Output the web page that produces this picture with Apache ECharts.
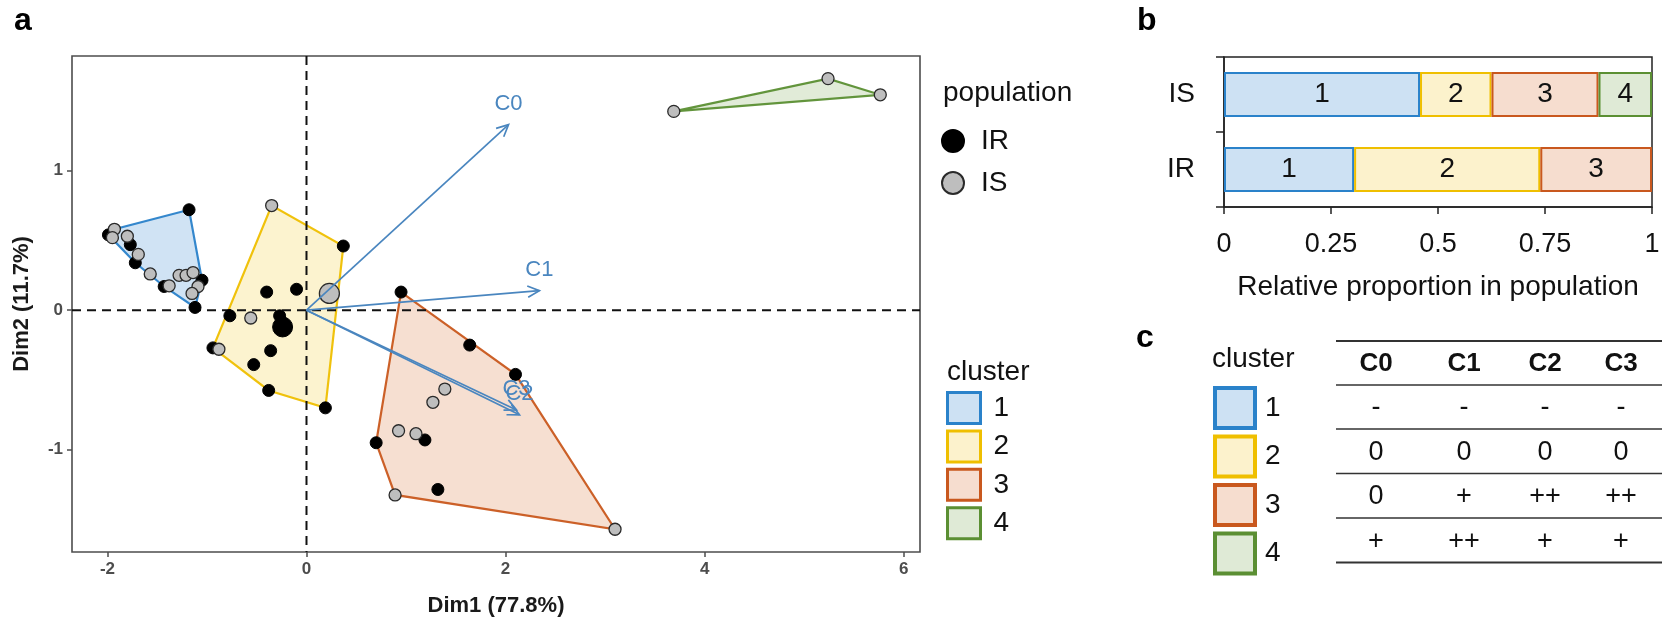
<!DOCTYPE html>
<html>
<head>
<meta charset="utf-8">
<script src="https://cdn.jsdelivr.net/npm/echarts@6/dist/echarts.min.js"></script>
<style>
html, body { margin: 0; padding: 0; background: #fff; }
#chart { width: 1666px; height: 622px; }
</style>
</head>
<body>
<div id="chart"></div>
<script>
// ---- panel a: individuals, [Dim1, Dim2, cluster] ----
const irPoints = [
  [-1.18, 0.72, 1], [-1.99, 0.54, 1], [-1.77, 0.47, 1], [-1.72, 0.34, 1],
  [-1.43, 0.17, 1], [-1.05, 0.215, 1], [-1.12, 0.02, 1],
  [0.37, 0.46, 2], [-0.40, 0.13, 2], [-0.10, 0.15, 2], [-0.77, -0.04, 2],
  [-0.27, -0.04, 2], [-0.94, -0.27, 2], [-0.36, -0.29, 2], [-0.53, -0.39, 2],
  [-0.38, -0.575, 2], [0.19, -0.70, 2],
  [0.95, 0.13, 3], [1.64, -0.25, 3], [2.10, -0.46, 3], [1.19, -0.93, 3],
  [0.70, -0.95, 3], [1.32, -1.285, 3]
]
const isPoints = [
  [-1.93, 0.58, 1], [-1.95, 0.52, 1], [-1.80, 0.53, 1], [-1.69, 0.40, 1],
  [-1.57, 0.26, 1], [-1.38, 0.175, 1], [-1.28, 0.25, 1], [-1.21, 0.25, 1],
  [-1.14, 0.27, 1], [-1.09, 0.17, 1], [-1.15, 0.12, 1],
  [-0.35, 0.75, 2], [-0.56, -0.056, 2], [-0.88, -0.28, 2],
  [1.39, -0.565, 3], [1.27, -0.66, 3], [0.925, -0.864, 3], [1.10, -0.885, 3],
  [0.89, -1.324, 3], [3.10, -1.57, 3],
  [3.69, 1.425, 4], [5.24, 1.66, 4], [5.765, 1.544, 4]
]
const irMean = [[-0.24, -0.12]]
const isMean = [[0.23, 0.12]]

// variable arrows
const varNames = ['C0', 'C1', 'C3', 'C2']
const varDim1 = [2.03, 2.34, 2.11, 2.14]
const varDim2 = [1.33, 0.14, -0.715, -0.75]

const dim1Ticks = [-2, 0, 2, 4, 6]
const dim2Ticks = [-1, 0, 1]

// ---- panel b: proportions per population ----
const clusters = ['1', '2', '3', '4']
const populations = ['IR', 'IS']
const propIR = [0.304, 0.435, 0.261, '-']
const propIS = [0.458, 0.167, 0.25, 0.125]

// ---- panel c: table ----
const markerCols = ['C0', 'C1', 'C2', 'C3']
const markerRows = [
  ['-', '-', '-', '-'],
  ['0', '0', '0', '0'],
  ['0', '+', '++', '++'],
  ['+', '++', '+', '+']
]

const FONT = 'Liberation Sans, Arial, Helvetica, sans-serif'
const lineColors = ['#2A82CA', '#EFBF00', '#C9581E', '#5B8F33']
const fillColors = ['#CDE1F3', '#FCF2CC', '#F6DDCF', '#DFEAD6']
const arrowColor = '#4A86BF'

// convex hull (monotone chain)
function convexHull(pts) {
  const p = pts.map((d) => [d[0], d[1]]).sort((a, b) => a[0] - b[0] || a[1] - b[1])
  if (p.length < 3) return p
  const cross = (o, a, b) => (a[0] - o[0]) * (b[1] - o[1]) - (a[1] - o[1]) * (b[0] - o[0])
  const lower = []
  for (const q of p) {
    while (lower.length >= 2 && cross(lower[lower.length - 2], lower[lower.length - 1], q) <= 0) lower.pop()
    lower.push(q)
  }
  const upper = []
  for (let i = p.length - 1; i >= 0; i--) {
    const q = p[i]
    while (upper.length >= 2 && cross(upper[upper.length - 2], upper[upper.length - 1], q) <= 0) upper.pop()
    upper.push(q)
  }
  upper.pop(); lower.pop()
  return lower.concat(upper)
}

const allPoints = irPoints.concat(isPoints)
const hulls = clusters.map((c, i) => convexHull(allPoints.filter((p) => p[2] === i + 1)))

const chart = echarts.init(document.getElementById('chart'))

// table graphics for panel c
const colX = [1376, 1464, 1545, 1621]
const hLines = [341, 385, 429, 473.5, 518, 562.5]
const tableGraphics = []
hLines.forEach((y, i) => {
  const thick = i === 0 || i === hLines.length - 1
  tableGraphics.push({
    type: 'line', shape: { x1: 1336, y1: y, x2: 1662, y2: y },
    style: { stroke: '#333', lineWidth: thick ? 2.2 : 1.6 }
  })
})
markerCols.forEach((c, j) => {
  tableGraphics.push({
    type: 'text', x: colX[j], y: (hLines[0] + hLines[1]) / 2 + 1,
    style: { text: c, fontSize: 26, fontWeight: 'bold', fill: '#111', align: 'center', verticalAlign: 'middle', fontFamily: FONT }
  })
})
markerRows.forEach((row, i) => {
  row.forEach((v, j) => {
    tableGraphics.push({
      type: 'text', x: colX[j], y: (hLines[i + 1] + hLines[i + 2]) / 2 + 1,
      style: { text: v, fontSize: 27, fill: '#111', align: 'center', verticalAlign: 'middle', fontFamily: FONT }
    })
  })
})

const letter = (t, x, y) => ({
  type: 'text', x: x, y: y,
  style: { text: t, fontSize: 32, fontWeight: 'bold', fill: '#000', verticalAlign: 'middle', fontFamily: FONT }
})
const title = (t, x, y) => ({
  type: 'text', x: x, y: y,
  style: { text: t, fontSize: 28, fill: '#111', verticalAlign: 'middle', fontFamily: FONT }
})

chart.setOption({
  animation: false,
  textStyle: { fontFamily: FONT },
  grid: [
    { left: 72, top: 56, width: 848, height: 507, show: true, borderColor: '#4d4d4d', borderWidth: 1.6 },
    { left: 1224, top: 57, width: 428, height: 150, show: true, borderColor: '#222', borderWidth: 1.5 }
  ],
  xAxis: [
    {
      gridIndex: 0, type: 'value', min: -2.356, max: 6.164,
      name: 'Dim1 (77.8%)', nameLocation: 'middle', nameGap: 43,
      nameTextStyle: { fontSize: 22, fontWeight: 'bold', color: '#1a1a1a' },
      axisLine: { show: false, onZero: false },
      axisTick: { show: true, length: 5, customValues: dim1Ticks, lineStyle: { color: '#4d4d4d', width: 1.5 } },
      axisLabel: { customValues: dim1Ticks, fontSize: 17, fontWeight: 'bold', color: '#4d4d4d', margin: 9 },
      splitLine: { show: false }
    },
    {
      gridIndex: 1, type: 'value', min: 0, max: 1, interval: 0.25,
      name: 'Relative proportion in population', nameLocation: 'middle', nameGap: 66,
      nameTextStyle: { fontSize: 28, color: '#111' },
      axisLine: { show: true, lineStyle: { color: '#222', width: 1.5 } },
      axisTick: { show: true, length: 7, lineStyle: { color: '#222', width: 1.5 } },
      axisLabel: { fontSize: 27, color: '#111', margin: 24 },
      splitLine: { show: false }
    }
  ],
  yAxis: [
    {
      gridIndex: 0, type: 'value', min: -1.733, max: 1.822,
      name: 'Dim2 (11.7%)', nameLocation: 'middle', nameGap: 39, nameRotate: 90,
      nameTextStyle: { fontSize: 22, fontWeight: 'bold', color: '#1a1a1a' },
      axisLine: { show: false, onZero: false },
      axisTick: { show: true, length: 5, customValues: dim2Ticks, lineStyle: { color: '#4d4d4d', width: 1.5 } },
      axisLabel: { customValues: dim2Ticks, fontSize: 17, fontWeight: 'bold', color: '#4d4d4d', margin: 9 },
      splitLine: { show: false }
    },
    {
      gridIndex: 1, type: 'category', data: populations,
      axisLine: { show: true, lineStyle: { color: '#222', width: 1.5 } },
      axisTick: { show: true, length: 8, lineStyle: { color: '#222', width: 1.5 } },
      axisLabel: { fontSize: 28, color: '#111', margin: 29 }
    }
  ],
  legend: [
    {
      data: ['IR', 'IS'], orient: 'vertical', left: 941, top: 127, padding: 0, selectedMode: false,
      icon: 'circle', itemWidth: 22, itemHeight: 22, itemGap: 14,
      textStyle: { fontSize: 28, lineHeight: 28, color: '#111', padding: [0, 0, 0, 12] }
    },
    {
      data: clusters, orient: 'vertical', left: 946, top: 391, padding: 0, selectedMode: false,
      icon: 'rect', itemWidth: 33, itemHeight: 31, itemGap: 4.4,
      itemStyle: { borderWidth: 3 },
      textStyle: { fontSize: 28, lineHeight: 28, color: '#111', padding: [0, 0, 0, 8] }
    },
    {
      data: clusters, orient: 'vertical', left: 1213, top: 386, padding: 0, selectedMode: false,
      icon: 'rect', itemWidth: 40, itemHeight: 40, itemGap: 4.5,
      itemStyle: { borderWidth: 4 },
      textStyle: { fontSize: 28, lineHeight: 28, color: '#111', padding: [0, 0, 0, 5] }
    }
  ],
  graphic: [
    letter('a', 14, 21),
    letter('b', 1137, 21),
    letter('c', 1136, 338),
    title('population', 943, 93),
    title('cluster', 947, 372),
    title('cluster', 1212, 359)
  ].concat(tableGraphics),
  series: [
    {
      type: 'custom', name: 'hull', xAxisIndex: 0, yAxisIndex: 0, z: 1, silent: true,
      data: hulls.map((h, i) => [h[0][0], h[0][1], i]),
      renderItem: (params, api) => {
        const i = params.dataIndex
        return {
          type: 'polygon',
          shape: { points: hulls[i].map((p) => api.coord([p[0], p[1]])) },
          style: { fill: fillColors[i], stroke: lineColors[i], lineWidth: 2.2, opacity: 0.95 }
        }
      }
    },
    {
      type: 'custom', name: 'zero', xAxisIndex: 0, yAxisIndex: 0, z: 2, silent: true,
      data: [[0, 0]],
      renderItem: (params, api) => {
        const o = api.coord([api.value(0), api.value(1)])
        const cs = params.coordSys
        const st = { stroke: '#111', lineWidth: 2, lineDash: [9, 6] }
        return {
          type: 'group',
          children: [
            { type: 'line', shape: { x1: cs.x, y1: o[1], x2: cs.x + cs.width, y2: o[1] }, style: st },
            { type: 'line', shape: { x1: o[0], y1: cs.y, x2: o[0], y2: cs.y + cs.height }, style: st }
          ]
        }
      }
    },
    {
      name: 'IR', type: 'scatter', xAxisIndex: 0, yAxisIndex: 0, z: 4, symbolSize: 12,
      data: irPoints.map((p) => [p[0], p[1]]),
      itemStyle: { color: '#000', borderColor: '#000', borderWidth: 1, opacity: 1 }
    },
    {
      name: 'IS', type: 'scatter', xAxisIndex: 0, yAxisIndex: 0, z: 4, symbolSize: 12,
      data: isPoints.map((p) => [p[0], p[1]]),
      itemStyle: { color: '#BEBEBE', borderColor: '#2a2a2a', borderWidth: 1.3, opacity: 1 }
    },
    {
      name: 'IR', type: 'scatter', xAxisIndex: 0, yAxisIndex: 0, z: 4, symbolSize: 20,
      data: irMean,
      itemStyle: { color: '#000', borderColor: '#000', borderWidth: 1, opacity: 1 }
    },
    {
      name: 'IS', type: 'scatter', xAxisIndex: 0, yAxisIndex: 0, z: 4, symbolSize: 20,
      data: isMean,
      itemStyle: { color: '#BEBEBE', borderColor: '#2a2a2a', borderWidth: 1.3, opacity: 1 }
    },
    {
      type: 'custom', name: 'variables', xAxisIndex: 0, yAxisIndex: 0, z: 5, silent: true,
      data: varNames.map((n, i) => [varDim1[i], varDim2[i]]),
      renderItem: (params, api) => {
        const o = api.coord([0, 0])
        const t = api.coord([api.value(0), api.value(1)])
        const ang = Math.atan2(t[1] - o[1], t[0] - o[0])
        const L = 13, a = Math.PI / 7
        const h1 = [t[0] - L * Math.cos(ang - a), t[1] - L * Math.sin(ang - a)]
        const h2 = [t[0] - L * Math.cos(ang + a), t[1] - L * Math.sin(ang + a)]
        const st = { stroke: arrowColor, lineWidth: 1.7, fill: null }
        return {
          type: 'group',
          children: [
            { type: 'line', shape: { x1: o[0], y1: o[1], x2: t[0], y2: t[1] }, style: st },
            { type: 'polyline', shape: { points: [h1, t, h2] }, style: st },
            {
              type: 'text', x: t[0], y: t[1] - 21,
              style: { text: varNames[params.dataIndex], fontSize: 22, fill: arrowColor, align: 'center', verticalAlign: 'middle', fontFamily: FONT }
            }
          ]
        }
      }
    }
  ].concat(clusters.map((c, i) => ({
    name: c, type: 'bar', xAxisIndex: 1, yAxisIndex: 1, stack: 'prop', barWidth: '60%',
    data: [propIR[i], propIS[i]],
    itemStyle: { color: fillColors[i], borderColor: lineColors[i], borderWidth: 2 },
    label: { show: true, position: 'inside', formatter: c, fontSize: 28, color: '#111' }
  })))
})
</script>
</body>
</html>
